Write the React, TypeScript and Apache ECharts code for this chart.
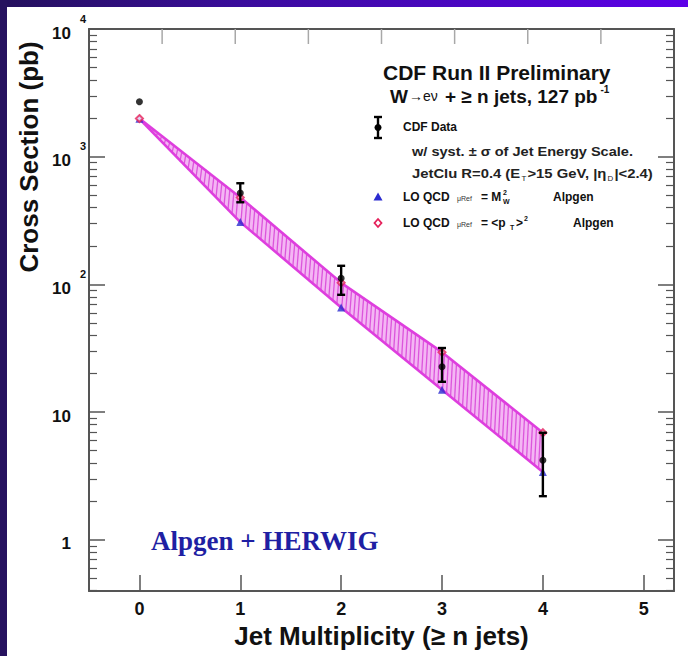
import React, { useEffect, useRef } from 'react';
import * as echarts from 'echarts';

// Jet multiplicity bins (>= n jets)
const multiplicity = [0, 1, 2, 3, 4];
// CDF measured cross sections (pb) with total uncertainty band
const cdfData = [2690, 520, 112, 22.7, 4.2];
const cdfLow = [2690, 440, 83, 17.3, 2.2];
const cdfHigh = [2690, 620, 140, 31.8, 6.9];
// LO QCD (Alpgen) predictions for the two renormalisation scales
const loQcdMw = [1980, 308, 66, 15, 3.4];
const loQcdPt = [1990, 480, 103, 29.5, 6.9];

const xTickValues = [0, 1, 2, 3, 4, 5];
const topTickValues = [1, 2, 3, 4, 5, 6, 7];
const yDecadeExponents = [0, 1, 2, 3, 4];
const yMinorFactors = [2, 3, 4, 5, 6, 7, 8, 9];

const X_MIN = -0.5;
const X_MAX = 5.3;
const Y_MIN = -0.4; // log10 of 0.4 pb
const Y_MAX = 4; // log10 of 10^4 pb

const SANS = '"Liberation Sans", Arial, Helvetica, sans-serif';
const SERIF = '"Liberation Serif", "Times New Roman", serif';
const FRAME = '#555';
const MAGENTA = '#de3ede';

const lg = (v: number) => Math.log10(v);

const yMinorValues: number[] = [];
for (let e = -1; e <= 3; e++) {
  for (const k of yMinorFactors) {
    const v = lg(k * Math.pow(10, e));
    if (v >= Y_MIN - 1e-9 && v <= Y_MAX + 1e-9) yMinorValues.push(v);
  }
}

function yLabel(value: number): string {
  const e = Math.round(value);
  if (e >= 2) return `{b|10}{s|${e}}`;
  if (e === 1) return '{b|10}{h|0}';
  return '{b|1}{h|0}';
}

function buildOption(): echarts.EChartsOption {
  const bandData = multiplicity.slice(0, -1).map((n, i) => [
    n,
    multiplicity[i + 1],
    lg(loQcdPt[i]),
    lg(loQcdMw[i]),
    lg(loQcdPt[i + 1]),
    lg(loQcdMw[i + 1]),
  ]);
  const errData = multiplicity.map((n, i) => [n, lg(cdfLow[i]), lg(cdfHigh[i])]);
  const lastSeg = bandData.length - 1;

  const supStyle = { fontSize: 11, fontWeight: 'bold', fontFamily: SANS, verticalAlign: 'top', padding: [0, 0, 0, 9] };

  const yAxisBase = {
    type: 'value' as const,
    min: Y_MIN,
    max: Y_MAX,
    splitLine: { show: false },
  };

  return {
    animation: false,
    grid: { left: 89, top: 29, right: 14, bottom: 65, containLabel: false },
    xAxis: [
      {
        type: 'value',
        min: X_MIN,
        max: X_MAX,
        position: 'bottom',
        splitLine: { show: false },
        axisLine: { show: true, onZero: false, lineStyle: { color: FRAME, width: 2 } },
        axisTick: { inside: true, length: 16, customValues: xTickValues, lineStyle: { color: FRAME, width: 1.5 } },
        axisLabel: {
          customValues: xTickValues,
          margin: 9,
          fontSize: 18,
          fontWeight: 'bold',
          fontFamily: SANS,
          color: '#111',
        },
        name: 'Jet Multiplicity (≥ n jets)',
        nameLocation: 'middle',
        nameGap: 21,
        nameTextStyle: { fontSize: 26, fontWeight: 'bold', fontFamily: SANS, color: '#111' },
      },
      {
        type: 'value',
        min: 0,
        max: 8,
        position: 'top',
        splitLine: { show: false },
        axisLine: { show: true, onZero: false, lineStyle: { color: FRAME, width: 2 } },
        axisTick: { show: false },
        axisLabel: { show: false },
      },
    ],
    yAxis: [
      {
        ...yAxisBase,
        position: 'left',
        axisLine: { show: true, onZero: false, lineStyle: { color: FRAME, width: 2 } },
        axisTick: { inside: true, length: 16, customValues: yDecadeExponents, lineStyle: { color: FRAME, width: 1.5 } },
        axisLabel: {
          customValues: yDecadeExponents,
          formatter: (v: number) => yLabel(v),
          margin: 3,
          padding: [8, 0, 0, 0],
          rich: {
            b: { fontSize: 17, fontWeight: 'bold', fontFamily: SANS, color: '#111', lineHeight: 40 },
            s: { ...supStyle, color: '#111' },
            h: { ...supStyle, color: 'rgba(0,0,0,0)' },
          },
        },
      },
      {
        ...yAxisBase,
        position: 'left',
        axisLine: { show: false, onZero: false },
        axisTick: { show: true, inside: true, length: 8, customValues: yMinorValues, lineStyle: { color: FRAME, width: 1.2 } },
        axisLabel: { show: false },
      },
      {
        ...yAxisBase,
        position: 'right',
        axisLine: { show: true, onZero: false, lineStyle: { color: FRAME, width: 2 } },
        axisTick: { inside: true, length: 16, customValues: yDecadeExponents, lineStyle: { color: FRAME, width: 1.5 } },
        axisLabel: { show: false },
      },
      {
        ...yAxisBase,
        position: 'right',
        axisLine: { show: false, onZero: false },
        axisTick: { show: true, inside: true, length: 8, customValues: yMinorValues, lineStyle: { color: FRAME, width: 1.2 } },
        axisLabel: { show: false },
      },
    ],
    series: [
      {
        // faint tick marks along the upper frame
        name: 'frame top ticks',
        type: 'custom',
        xAxisIndex: 1,
        yAxisIndex: 0,
        silent: true,
        data: topTickValues.map((v) => [v, Y_MAX]),
        encode: { x: 0, y: 1 },
        renderItem: (params: any, api: any) => {
          const p = api.coord([api.value(0), api.value(1)]);
          return {
            type: 'line',
            shape: { x1: p[0], y1: p[1], x2: p[0], y2: p[1] + 15 },
            style: { stroke: '#a8a8a8', lineWidth: 1.5 },
          };
        },
        z: 1,
      },
      {
        name: 'LO QCD scale band',
        type: 'custom',
        xAxisIndex: 0,
        yAxisIndex: 0,
        data: bandData,
        encode: { x: [0, 1], y: [2, 3, 4, 5] },
        renderItem: (params: any, api: any) => {
          const x0 = api.value(0);
          const x1 = api.value(1);
          const u0 = api.coord([x0, api.value(2)]);
          const l0 = api.coord([x0, api.value(3)]);
          const u1 = api.coord([x1, api.value(4)]);
          const l1 = api.coord([x1, api.value(5)]);
          const children: any[] = [
            {
              type: 'polygon',
              shape: { points: [u0, u1, l1, l0] },
              style: { fill: '#f4b6f4', stroke: 'none' },
            },
          ];
          const step = 4;
          for (let px = u0[0] + 1.5; px < u1[0] - 0.5; px += step) {
            const t = (px - u0[0]) / (u1[0] - u0[0]);
            const top = u0[1] + (u1[1] - u0[1]) * t;
            const bot = l0[1] + (l1[1] - l0[1]) * t;
            children.push({
              type: 'line',
              shape: { x1: px + 1, y1: top, x2: px - 1, y2: bot },
              style: { stroke: '#dc55dc', lineWidth: 1.3 },
            });
          }
          children.push({
            type: 'line',
            shape: { x1: u0[0], y1: u0[1], x2: u1[0], y2: u1[1] },
            style: { stroke: MAGENTA, lineWidth: 2.6 },
          });
          children.push({
            type: 'line',
            shape: { x1: l0[0], y1: l0[1], x2: l1[0], y2: l1[1] },
            style: { stroke: MAGENTA, lineWidth: 2.6 },
          });
          if (params.dataIndex === lastSeg) {
            children.push({
              type: 'line',
              shape: { x1: u1[0], y1: u1[1], x2: l1[0], y2: l1[1] },
              style: { stroke: MAGENTA, lineWidth: 2.2 },
            });
          }
          return { type: 'group', children };
        },
        z: 2,
      },
      {
        name: 'LO QCD mu = MW^2',
        type: 'scatter',
        xAxisIndex: 0,
        yAxisIndex: 0,
        symbol: 'triangle',
        symbolSize: 8,
        itemStyle: { color: '#2b2bd0' },
        data: multiplicity.map((n, i) => [n, lg(loQcdMw[i])]),
        z: 3,
      },
      {
        name: 'LO QCD mu = <pT>^2',
        type: 'scatter',
        xAxisIndex: 0,
        yAxisIndex: 0,
        symbol: 'emptyDiamond',
        symbolSize: 7,
        itemStyle: { color: '#e5205a', borderWidth: 1.8 },
        data: multiplicity.map((n, i) => [n, lg(loQcdPt[i])]),
        z: 4,
      },
      {
        name: 'CDF Data errors',
        type: 'custom',
        xAxisIndex: 0,
        yAxisIndex: 0,
        data: errData,
        encode: { x: 0, y: [1, 2] },
        renderItem: (params: any, api: any) => {
          const x = api.value(0);
          const lo = api.coord([x, api.value(1)]);
          const hi = api.coord([x, api.value(2)]);
          // bars hidden behind the marker are not drawn
          if (Math.abs(lo[1] - hi[1]) < 7) return { type: 'group', children: [] };
          const cap = 4;
          const st = { stroke: '#000', lineWidth: 2.4 };
          return {
            type: 'group',
            children: [
              { type: 'line', shape: { x1: lo[0], y1: lo[1], x2: hi[0], y2: hi[1] }, style: st },
              { type: 'line', shape: { x1: lo[0] - cap, y1: lo[1], x2: lo[0] + cap, y2: lo[1] }, style: st },
              { type: 'line', shape: { x1: hi[0] - cap, y1: hi[1], x2: hi[0] + cap, y2: hi[1] }, style: st },
            ],
          };
        },
        z: 5,
      },
      {
        name: 'CDF Data',
        type: 'scatter',
        xAxisIndex: 0,
        yAxisIndex: 0,
        symbol: 'circle',
        symbolSize: 7,
        itemStyle: { color: '#000' },
        data: multiplicity.map((n, i) => [n, lg(cdfData[i])]),
        z: 6,
      },
    ],
    graphic: [
      {
        type: 'rect',
        z: -30,
        silent: true,
        shape: { x: 0, y: 0, width: 688, height: 656 },
        style: {
          fill: new echarts.graphic.LinearGradient(0, 0, 1, 0, [
            { offset: 0, color: '#24115c' },
            { offset: 0.35, color: '#3a0c9c' },
            { offset: 1, color: '#5c00e8' },
          ]),
        },
      },
      { type: 'rect', z: -29, silent: true, shape: { x: 0, y: 0, width: 7, height: 656 }, style: { fill: '#26125f' } },
      { type: 'rect', z: -28, silent: true, shape: { x: 7, y: 7, width: 681, height: 649 }, style: { fill: '#ffffff' } },
      {
        type: 'text',
        x: 29,
        y: 157,
        rotation: Math.PI / 2,
        style: {
          text: 'Cross Section (pb)',
          font: `bold 26px ${SANS}`,
          fill: '#111',
          align: 'center',
          verticalAlign: 'middle',
        },
      },
      {
        type: 'text',
        x: 383,
        y: 72,
        style: { text: 'CDF Run II Preliminary', font: `bold 21px ${SANS}`, fill: '#111', verticalAlign: 'middle' },
      },
      {
        type: 'text',
        x: 390,
        y: 96,
        style: {
          text: '{w|W}{a|→e\u03bd}{b| + ≥ n jets, 127 pb}{s|-1}',
          verticalAlign: 'middle',
          rich: {
            w: { fontSize: 19, fontWeight: 'bold', fontFamily: SANS, fill: '#111', lineHeight: 24 },
            a: { fontSize: 14, fontFamily: SANS, fill: '#111', padding: [0, 2, 0, 1] },
            b: { fontSize: 19, fontWeight: 'bold', fontFamily: SANS, fill: '#111' },
            s: { fontSize: 10, fontWeight: 'bold', fontFamily: SANS, fill: '#111', verticalAlign: 'top', padding: [0, 0, 0, 3] },
          },
        } as any,
      },
      // legend: CDF data
      {
        type: 'group',
        children: [
          { type: 'line', shape: { x1: 378, y1: 117, x2: 378, y2: 138 }, style: { stroke: '#000', lineWidth: 2.4 } },
          { type: 'line', shape: { x1: 374, y1: 117, x2: 382, y2: 117 }, style: { stroke: '#000', lineWidth: 2.4 } },
          { type: 'line', shape: { x1: 374, y1: 138, x2: 382, y2: 138 }, style: { stroke: '#000', lineWidth: 2.4 } },
          { type: 'circle', shape: { cx: 378, cy: 127.5, r: 3.5 }, style: { fill: '#000' } },
        ],
      },
      {
        type: 'text',
        x: 403,
        y: 127,
        style: { text: 'CDF Data', font: `bold 12px ${SANS}`, fill: '#111', verticalAlign: 'middle' },
      },
      {
        type: 'text',
        x: 412,
        y: 152,
        scaleX: 1.12,
        style: { text: 'w/ syst. ± σ of Jet Energy Scale.', font: `bold 13px ${SANS}`, fill: '#222', verticalAlign: 'middle' },
      },
      {
        type: 'text',
        x: 412,
        y: 173,
        scaleX: 1.14,
        style: {
          text: '{n|JetClu R=0.4 (E}{d|T}{n|>15 GeV, |\u03b7}{d|D}{n||<2.4)}',
          verticalAlign: 'middle',
          rich: {
            n: { fontSize: 13, fontWeight: 'bold', fontFamily: SANS, fill: '#222', lineHeight: 18 },
            d: { fontSize: 7, fontFamily: SANS, fill: '#222', verticalAlign: 'bottom', padding: [0, 1, 0, 1] },
          },
        } as any,
      },
      // legend: LO QCD, mu = M_W^2
      { type: 'polygon', shape: { points: [[378, 192.5], [373.5, 200.5], [382.5, 200.5]] }, style: { fill: '#2b2bd0' } },
      { type: 'text', x: 403, y: 197, style: { text: 'LO QCD', font: `bold 12px ${SANS}`, fill: '#111', verticalAlign: 'middle' } },
      { type: 'text', x: 457, y: 198, style: { text: '\u03bcRef', font: `7px ${SANS}`, fill: '#333', verticalAlign: 'middle' } },
      { type: 'text', x: 481, y: 197, style: { text: '= M', font: `bold 12px ${SANS}`, fill: '#111', verticalAlign: 'middle' } },
      { type: 'text', x: 503, y: 192, style: { text: '2', font: `bold 7px ${SANS}`, fill: '#111', verticalAlign: 'middle' } },
      { type: 'text', x: 503, y: 201, style: { text: 'W', font: `bold 7px ${SANS}`, fill: '#111', verticalAlign: 'middle' } },
      { type: 'text', x: 553, y: 197, style: { text: 'Alpgen', font: `bold 12px ${SANS}`, fill: '#111', verticalAlign: 'middle' } },
      // legend: LO QCD, mu = <pT>^2
      {
        type: 'polygon',
        shape: { points: [[378, 219], [381.5, 223], [378, 227], [374.5, 223]] },
        style: { fill: '#fff', stroke: '#e5205a', lineWidth: 1.8 },
      },
      { type: 'text', x: 403, y: 223, style: { text: 'LO QCD', font: `bold 12px ${SANS}`, fill: '#111', verticalAlign: 'middle' } },
      { type: 'text', x: 457, y: 224, style: { text: '\u03bcRef', font: `7px ${SANS}`, fill: '#333', verticalAlign: 'middle' } },
      { type: 'text', x: 481, y: 223, style: { text: '= <p', font: `bold 12px ${SANS}`, fill: '#111', verticalAlign: 'middle' } },
      { type: 'text', x: 510, y: 227, style: { text: 'T', font: `bold 7px ${SANS}`, fill: '#111', verticalAlign: 'middle' } },
      { type: 'text', x: 516, y: 223, style: { text: '>', font: `bold 12px ${SANS}`, fill: '#111', verticalAlign: 'middle' } },
      { type: 'text', x: 524, y: 218, style: { text: '2', font: `bold 7px ${SANS}`, fill: '#111', verticalAlign: 'middle' } },
      { type: 'text', x: 573, y: 223, style: { text: 'Alpgen', font: `bold 12px ${SANS}`, fill: '#111', verticalAlign: 'middle' } },
      {
        type: 'text',
        x: 151,
        y: 541,
        style: { text: 'Alpgen + HERWIG', font: `bold 27px ${SERIF}`, fill: '#1f1fa3', verticalAlign: 'middle' },
      },
    ],
  } as echarts.EChartsOption;
}

export default function App() {
  const ref = useRef<HTMLDivElement>(null);

  useEffect(() => {
    if (!ref.current) return;
    const chart = echarts.init(ref.current, undefined, { renderer: 'svg' });
    chart.setOption(buildOption());
    return () => chart.dispose();
  }, []);

  return (
    <div
      ref={ref}
      style={{ position: 'absolute', left: 0, top: 0, width: 688, height: 656 }}
    />
  );
}
